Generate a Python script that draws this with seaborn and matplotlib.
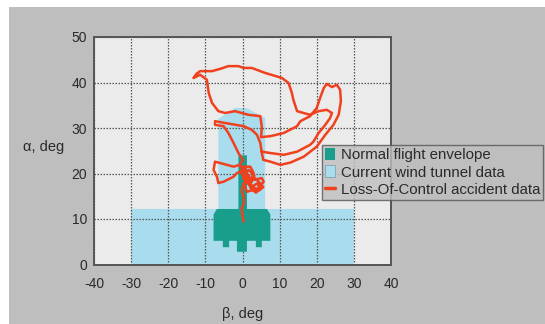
import numpy as np
import pandas as pd
import seaborn as sns
import matplotlib
matplotlib.use("Agg")
import matplotlib.pyplot as plt
from matplotlib.patches import Patch, Rectangle
from matplotlib.lines import Line2D

# ---------------- data ----------------
# Current wind tunnel data region (beta, alpha) outline
tunnel_beta = [-30, -30, -6.5, -6.5, -2.0, 1.0, 6.1, 6.1, 30, 30]
tunnel_alpha = [0, 12.2, 12.2, 32.0, 34.4, 34.4, 32.2, 12.2, 12.2, 0]

# Normal flight envelope outline
env_beta = [-1.1, 1.2, 1.2, 6.6, 7.5, 7.5, 5.2, 5.2, 3.6, 3.6, 1.2, 1.2, -1.5, -1.5,
            -3.6, -3.6, -5.3, -5.3, -7.8, -7.8, -6.9, -1.1]
env_alpha = [24.0, 24.0, 12.2, 12.2, 11.0, 5.2, 5.2, 3.8, 3.8, 5.2, 5.2, 2.8, 2.8, 5.2,
             5.2, 3.8, 3.8, 5.2, 5.2, 11.0, 12.2, 12.2]

# Loss-of-control accident trajectory
loc_beta = [0.3, 0.0, -0.2, 0.4, 0.3, -0.2, 0.3, 1.2, 3.0, 4.3, 5.7, 5.2, 3.0, 1.2, 2.1,
            3.0, 2.1, -0.6, 0.5, 1.8, 0.2, 1.0, 2.6, 4.0, 4.8, 3.6, 2.2, 1.4, 2.8, 4.6,
            5.6, 4.2, 2.0, 0.8, 1.6, 3.2, 2.4, 0.6, -0.4, 0.9,
            -1.5, -2.4, -5.1, -6.5, -6.9, -7.8, -7.4,
            -4.2, -2.4, -0.8, 0.2, -0.2,
            -1.1, -2.4, -3.8, -5.1, -7.4, -7.4,
            -3.3, 0.3, 2.5, 3.9, 4.8, 5.2, 5.6,
            7.5, 10.2, 12.9, 16.5, 20.0, 22.3, 24.5, 25.9, 26.5, 26.3, 25.4, 24.1, 22.7,
            21.9, 20.9, 20.0, 18.2, 15.6, 14.7, 11.1, 7.5, 5.0,
            5.2, 4.8, 1.6, -2.0, -4.7, -6.5, -8.2, -9.1, -9.6, -11.4, -13.2, -12.4,
            -11.4, -8.2, -6.0, -3.8, -1.1, 0.3, 2.5, 6.1, 10.6, 12.4, 13.3, 13.7, 14.7,
            18.2, 20.5, 22.7, 24.1, 23.6, 22.3, 20.5, 19.1, 18.2, 14.7, 11.1, 7.5, 5.2]
loc_alpha = [9.4, 11.0, 12.2, 13.6, 14.9, 16.2, 17.9, 16.0, 16.4, 16.8, 18.2, 19.0, 18.6,
             19.3, 17.5, 20.1, 21.5, 21.5, 20.2, 19.6, 19.0, 18.0, 17.2, 17.8, 16.6, 15.8,
             16.8, 18.4, 19.4, 18.0, 17.0, 16.2, 17.6, 19.8, 20.8, 19.6, 18.2, 18.8,
             20.2, 21.0,
             20.1, 19.3, 18.2, 17.9, 19.3, 20.8, 22.6,
             21.9, 21.5, 21.9, 23.0, 23.4,
             24.5, 26.7, 28.9, 30.4, 30.7, 31.5,
             30.9, 30.4, 29.6, 28.5, 26.7, 24.5, 23.0,
             22.6, 21.9, 22.4, 23.7, 25.9, 28.5, 30.7, 32.9, 35.9, 38.4, 39.5, 39.0, 39.7,
             38.8, 36.6, 34.4, 32.6, 31.5, 30.4, 28.9, 28.2, 28.0,
             30.2, 32.6, 32.9, 33.7, 33.3, 33.7, 35.5, 37.7, 40.6, 41.7, 41.0, 41.9,
             42.5, 42.5, 43.0, 43.6, 43.6, 43.2, 43.2, 42.1, 41.0, 39.9, 37.7, 36.2, 33.7,
             32.9, 33.7, 34.0, 33.3, 32.2, 30.7, 28.9, 27.0, 26.3, 24.8, 24.1, 24.5, 24.8]

x_ticks = [-40, -30, -20, -10, 0, 10, 20, 30, 40]
x_ticklabels = ["-40", "-30", "-20", "-10", "0", "10", "20", "30", "40"]
y_ticks = [0, 10, 20, 30, 40, 50]
legend_labels = ["Normal flight envelope", "Current wind tunnel data",
                 "Loss-Of-Control accident data"]

# ---------------- style ----------------
sns.set_style("white")
plt.rcParams['font.family'] = ['Liberation Sans', 'DejaVu Sans']

FIG_GREY = "#bebebe"
AX_FACE = "#ebebeb"
TUNNEL = "#a9dcec"
ENVELOPE = "#199e8c"
RED = "#f0401e"
TEXT = "#2a2a2a"

fig = plt.figure(figsize=(5.45, 3.24), dpi=100)
fig.patch.set_facecolor("white")
fig.patches.append(Rectangle((9 / 545, 0), 1 - 9 / 545, 1 - 7 / 324,
                             transform=fig.transFigure, facecolor=FIG_GREY,
                             edgecolor="none", zorder=-10))

ax = fig.add_axes([94 / 545, (324 - 264.5) / 324, 297 / 545, 227.5 / 324])
ax.set_facecolor(AX_FACE)

ax.fill(tunnel_beta, tunnel_alpha, color=TUNNEL, lw=0, zorder=1)
ax.fill(env_beta, env_alpha, color=ENVELOPE, lw=0, zorder=2)

df = pd.DataFrame({"beta": loc_beta, "alpha": loc_alpha})
sns.lineplot(data=df, x="beta", y="alpha", sort=False, estimator=None,
             color=RED, lw=1.8, ax=ax, zorder=3)

ax.set_xlim(-40, 40)
ax.set_ylim(0, 50)
ax.set_xticks(x_ticks)
ax.set_xticklabels(x_ticklabels)
ax.set_yticks(y_ticks)
ax.tick_params(length=0, labelsize=10, colors=TEXT)
ax.tick_params(axis="x", pad=9)
ax.tick_params(axis="y", pad=5)

ax.set_axisbelow("line")
ax.grid(True, color="#555555", linestyle=(0, (1.2, 1.2)), linewidth=0.9)

for s in ax.spines.values():
    s.set_color("#555555")
    s.set_linewidth(1.4)
    s.set_zorder(4)

ax.set_xlabel("β, deg", fontsize=10.5, color=TEXT)
ax.xaxis.set_label_coords(0.5, -0.185)
ax.set_ylabel("α, deg", fontsize=10.5, color=TEXT, rotation=0, ha="center", va="center")
ax.yaxis.set_label_coords(-0.17, 0.516)

handles = [Patch(facecolor=ENVELOPE, edgecolor="none"),
           Patch(facecolor=TUNNEL, edgecolor="#7a9aa4", linewidth=0.5),
           Line2D([0], [0], color=RED, lw=2.5)]
leg = fig.legend(handles, legend_labels, loc="upper left",
                 bbox_to_anchor=(321.5 / 545, 1 - 145 / 324),
                 fontsize=10.8, frameon=True, fancybox=False,
                 handlelength=0.7, handleheight=0.85, handletextpad=0.35,
                 borderpad=0.22, labelspacing=0.2, borderaxespad=0)
leg.get_frame().set_facecolor(FIG_GREY)
leg.get_frame().set_edgecolor("#555555")
leg.get_frame().set_linewidth(1.0)
leg.set_zorder(5)
for t in leg.get_texts():
    t.set_color(TEXT)

fig.savefig("out.png", dpi=100, facecolor=fig.get_facecolor())
